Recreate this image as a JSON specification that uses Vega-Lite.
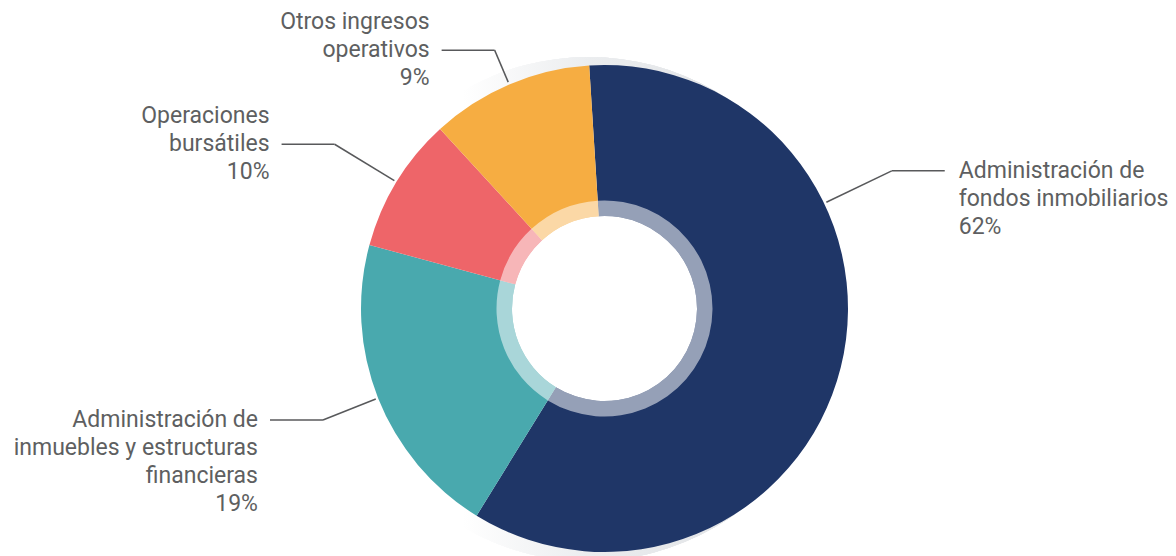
{
  "$schema": "https://vega.github.io/schema/vega-lite/v6.json",
  "width": 1176,
  "height": 556,
  "autosize": "none",
  "padding": 0,
  "background": "#ffffff",
  "config": {"view": {"stroke": null}, "axis": {"disable": true}},
  "data": {
    "values": [
      {"categoria": "Administración de fondos inmobiliarios", "nombre": "Administración de|fondos inmobiliarios", "porcentaje": 62, "valor": 59.8},
      {"categoria": "Administración de inmuebles y estructuras financieras", "nombre": "Administración de|inmuebles y estructuras|financieras", "porcentaje": 19, "valor": 20.4},
      {"categoria": "Operaciones bursátiles", "nombre": "Operaciones|bursátiles", "porcentaje": 10, "valor": 9.0},
      {"categoria": "Otros ingresos operativos", "nombre": "Otros ingresos|operativos", "porcentaje": 9, "valor": 10.8}
    ]
  },
  "transform": [
    {"window": [{"op": "sum", "field": "valor", "as": "fin"}], "frame": [null, 0]},
    {"calculate": "datum.fin - datum.valor", "as": "inicio"},
    {"calculate": "min(1.8 * (datum.inicio + datum.fin), 3.6 * datum.inicio + 68) - 3.6", "as": "angulo"},
    {"calculate": "datum.angulo * PI / 180", "as": "rad"},
    {"calculate": "-24 + 96 * abs(sin(datum.rad)) + 23 * cos(datum.rad)", "as": "ext"},
    {"calculate": "246 * sin(datum.rad)", "as": "tx"},
    {"calculate": "246 * cos(datum.rad)", "as": "ty"},
    {"calculate": "(246 + datum.ext) * sin(datum.rad)", "as": "kx"},
    {"calculate": "(246 + datum.ext) * cos(datum.rad)", "as": "ky"},
    {"calculate": "datum.kx + (datum.kx < 0 ? -53 : 53)", "as": "ex"},
    {"calculate": "datum.ex + (datum.ex < 0 ? -12 : 14)", "as": "lx"},
    {"calculate": "datum.nombre + '|' + datum.porcentaje + '%'", "as": "txt"}
  ],
  "layer": [
    {
      "mark": {
        "type": "arc", "outerRadius": 252, "innerRadius": 200,
        "color": {"gradient": "linear", "x1": 0, "x2": 1, "y1": 0, "y2": 0,
          "stops": [{"offset": 0, "color": "#ffffff"}, {"offset": 0.25, "color": "#ffffff"}, {"offset": 0.5, "color": "#ebedef"}, {"offset": 1, "color": "#dcdee1"}]}
      },
      "encoding": {
        "x": {"datum": 0, "type": "quantitative", "scale": {"domain": [-604.5, 571.5], "nice": false, "zero": false}, "axis": null},
        "y": {"datum": 0, "type": "quantitative", "scale": {"domain": [-247.5, 308.5], "nice": false, "zero": false}, "axis": null},
        "theta": {"datum": 0, "type": "quantitative", "scale": {"domain": [0, 100], "range": [-0.06283, 6.22035]}},
        "theta2": {"datum": 100}
      }
    },
    {
      "mark": {"type": "arc", "outerRadius": 243.5, "innerRadius": 92.5},
      "encoding": {
        "x": {"datum": 0, "type": "quantitative", "scale": {"domain": [-604.5, 571.5], "nice": false, "zero": false}, "axis": null},
        "y": {"datum": 0, "type": "quantitative", "scale": {"domain": [-247.5, 308.5], "nice": false, "zero": false}, "axis": null},
        "theta": {"field": "inicio", "type": "quantitative", "scale": {"domain": [0, 100], "range": [-0.06283, 6.22035]}},
        "theta2": {"field": "fin"},
        "color": {"field": "categoria", "type": "nominal", "legend": null,
          "scale": {"domain": ["Administración de fondos inmobiliarios", "Administración de inmuebles y estructuras financieras", "Operaciones bursátiles", "Otros ingresos operativos"],
                    "range": ["#1f3667", "#49a9ae", "#ee6569", "#f6ad42"]}}
      }
    },
    {
      "mark": {"type": "arc", "outerRadius": 108, "innerRadius": 92.5, "fill": "#ffffff", "fillOpacity": 0.53},
      "encoding": {
        "x": {"datum": 0, "type": "quantitative", "scale": {"domain": [-604.5, 571.5], "nice": false, "zero": false}, "axis": null},
        "y": {"datum": 0, "type": "quantitative", "scale": {"domain": [-247.5, 308.5], "nice": false, "zero": false}, "axis": null},
        "theta": {"field": "inicio", "type": "quantitative", "scale": {"domain": [0, 100], "range": [-0.06283, 6.22035]}},
        "theta2": {"field": "fin"}
      }
    },
    {
      "mark": {"type": "rule", "color": "#58595b", "strokeWidth": 1.5},
      "encoding": {
        "x": {"field": "tx", "type": "quantitative", "scale": {"domain": [-604.5, 571.5], "nice": false, "zero": false}, "axis": null},
        "y": {"field": "ty", "type": "quantitative", "scale": {"domain": [-247.5, 308.5], "nice": false, "zero": false}, "axis": null},
        "x2": {"field": "kx"},
        "y2": {"field": "ky"}
      }
    },
    {
      "mark": {"type": "rule", "color": "#58595b", "strokeWidth": 1.5},
      "encoding": {
        "x": {"field": "kx", "type": "quantitative", "scale": {"domain": [-604.5, 571.5], "nice": false, "zero": false}, "axis": null},
        "y": {"field": "ky", "type": "quantitative", "scale": {"domain": [-247.5, 308.5], "nice": false, "zero": false}, "axis": null},
        "x2": {"field": "ex"},
        "y2": {"field": "ky"}
      }
    },
    {
      "transform": [{"filter": "datum.ex < 0 && datum.ky > 0"}],
      "mark": {"type": "text", "align": "right", "baseline": "middle", "dy": -28, "lineBreak": "|", "lineHeight": 28, "font": "Roboto", "fontSize": 23, "color": "#5e5f61"},
      "encoding": {
        "x": {"field": "lx", "type": "quantitative", "scale": {"domain": [-604.5, 571.5], "nice": false, "zero": false}, "axis": null},
        "y": {"field": "ky", "type": "quantitative", "scale": {"domain": [-247.5, 308.5], "nice": false, "zero": false}, "axis": null},
        "text": {"field": "txt"}
      }
    },
    {
      "transform": [{"filter": "datum.ex < 0 && datum.ky <= 0"}],
      "mark": {"type": "text", "align": "right", "baseline": "alphabetic", "dy": 7, "lineBreak": "|", "lineHeight": 28, "font": "Roboto", "fontSize": 23, "color": "#5e5f61"},
      "encoding": {
        "x": {"field": "lx", "type": "quantitative", "scale": {"domain": [-604.5, 571.5], "nice": false, "zero": false}, "axis": null},
        "y": {"field": "ky", "type": "quantitative", "scale": {"domain": [-247.5, 308.5], "nice": false, "zero": false}, "axis": null},
        "text": {"field": "txt"}
      }
    },
    {
      "transform": [{"filter": "datum.ex >= 0"}],
      "mark": {"type": "text", "align": "left", "baseline": "alphabetic", "dy": 7, "lineBreak": "|", "lineHeight": 28, "font": "Roboto", "fontSize": 23, "color": "#5e5f61"},
      "encoding": {
        "x": {"field": "lx", "type": "quantitative", "scale": {"domain": [-604.5, 571.5], "nice": false, "zero": false}, "axis": null},
        "y": {"field": "ky", "type": "quantitative", "scale": {"domain": [-247.5, 308.5], "nice": false, "zero": false}, "axis": null},
        "text": {"field": "txt"}
      }
    }
  ]
}
